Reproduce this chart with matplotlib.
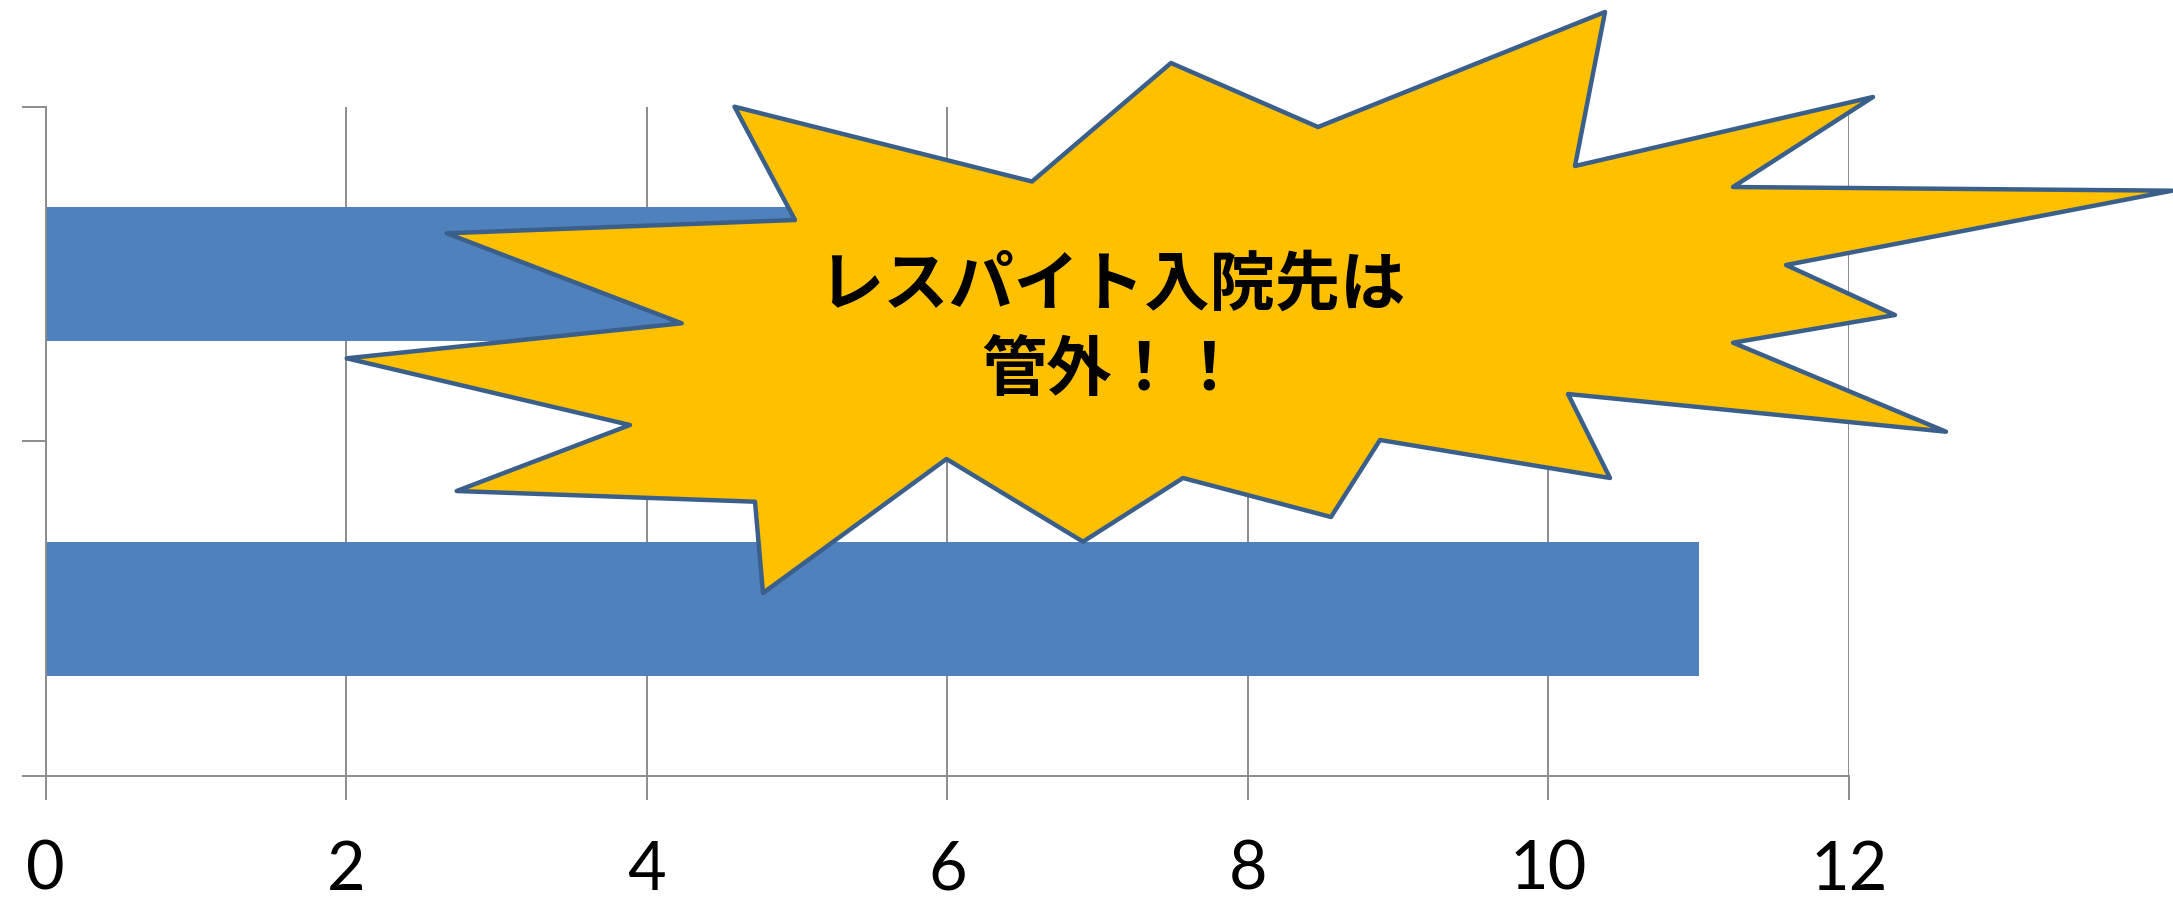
import matplotlib
matplotlib.use("Agg")
import matplotlib.pyplot as plt
from matplotlib.patches import Polygon

# Data
categories = ["A", "B"]          # bottom to top
values = [11, 7]
x_ticks = [0, 2, 4, 6, 8, 10, 12]
callout_text = "レスパイト入院先は\n管外！！"

W, H = 2173, 902
DPI = 100
fig = plt.figure(figsize=(W / DPI, H / DPI), dpi=DPI)
ax = fig.add_axes([45.7 / W, 1 - 776 / H, (1849 - 45.7) / W, (776 - 106.7) / H])

grid_c = "#8c8c8c"
bar_c = "#4f81bd"

ax.barh(range(len(categories)), values, height=0.4, color=bar_c, zorder=2)
ax.set_xlim(0, 12)
ax.set_ylim(-0.5, 1.5)
ax.set_xticks(x_ticks)
ax.set_xticklabels([str(t) for t in x_ticks], fontfamily="Lato", fontsize=48)
ax.set_yticks([-0.5, 0.5, 1.5])
ax.set_yticklabels([])
ax.tick_params(axis="both", direction="out", length=17, width=1.4, color=grid_c)
ax.tick_params(axis="x", pad=29)
ax.grid(axis="x", color=grid_c, linewidth=1.4, zorder=0)
ax.set_axisbelow(True)
for s in ("top", "right"):
    ax.spines[s].set_visible(False)
for s in ("left", "bottom"):
    ax.spines[s].set_color(grid_c)
    ax.spines[s].set_linewidth(1.4)

# Explosion callout (pixel coordinates, origin top-left)
star_px = [
    (734.5, 106.7), (1032, 181.5), (1171, 63), (1318, 127), (1605, 12),
    (1575, 166), (1873, 97), (1733, 187), (2172, 190.7), (1786, 265),
    (1895, 315), (1733, 342.7), (1946, 431.7), (1568, 394), (1610, 478),
    (1380, 440), (1331, 517), (1183, 478), (1083, 541.7), (946.5, 459),
    (763, 593), (755, 501.7), (456.7, 491), (630, 425), (346.7, 358.3),
    (681.7, 323.3), (446.7, 233.3), (795, 220),
]
star = Polygon([(x / W, 1 - y / H) for x, y in star_px], closed=True,
               transform=fig.transFigure, facecolor="#ffc000",
               edgecolor="#3a5f8b", linewidth=3.2, joinstyle="round",
               zorder=10, clip_on=False)
fig.add_artist(star)

fig.text(1112 / W, 1 - 328 / H, callout_text, ha="center", va="center",
         fontsize=47, fontweight="bold", linespacing=1.35,
         family=["Noto Sans CJK JP", "DejaVu Sans"], zorder=11)

fig.savefig("out.png", dpi=DPI, facecolor="white")
